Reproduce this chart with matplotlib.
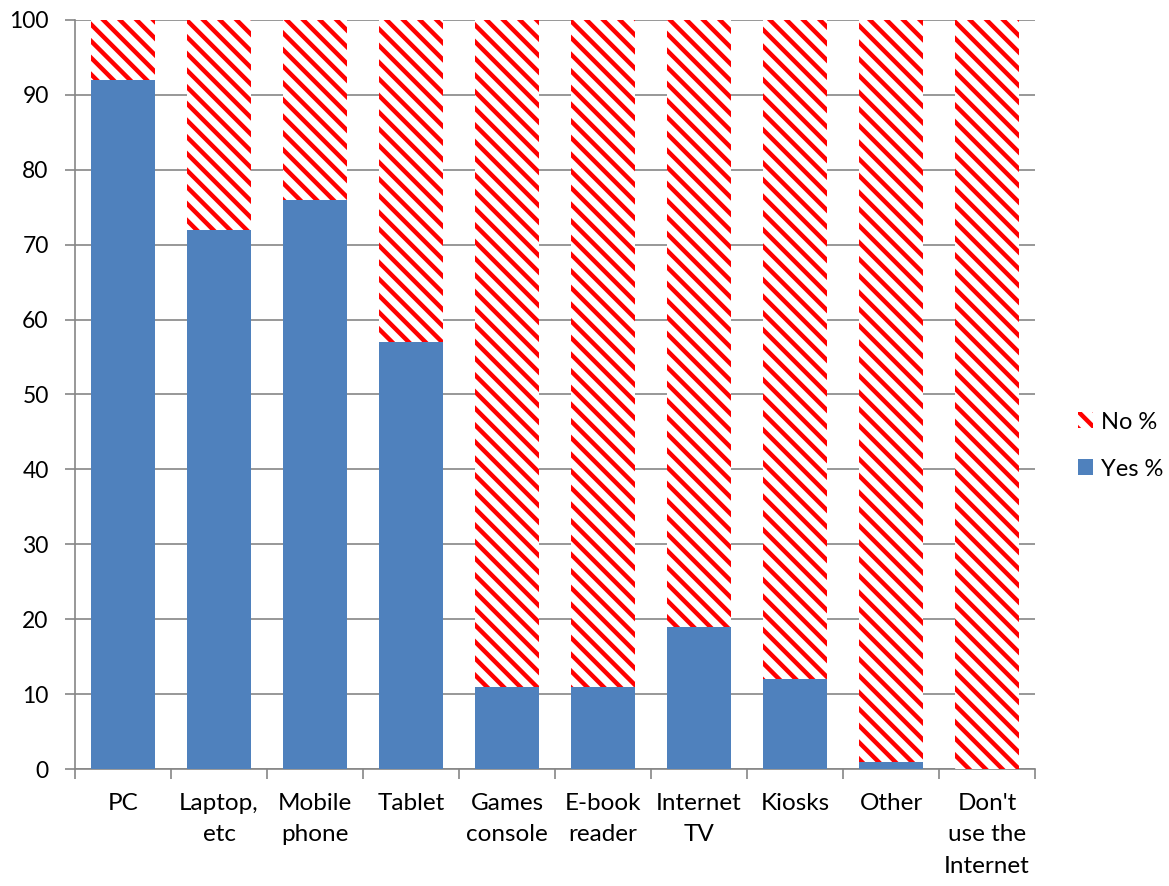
import matplotlib
matplotlib.use("Agg")
import matplotlib.pyplot as plt
from matplotlib.patches import Patch
import numpy as np

categories = ["PC", "Laptop,\netc", "Mobile\nphone", "Tablet", "Games\nconsole",
              "E-book\nreader", "Internet\nTV", "Kiosks", "Other", "Don't\nuse the\nInternet"]
yes_pct = [92, 72, 76, 57, 11, 11, 19, 12, 1, 0]
no_pct = [8, 28, 24, 43, 89, 89, 81, 88, 99, 100]
y_ticks = [0, 10, 20, 30, 40, 50, 60, 70, 80, 90, 100]

blue = "#4F81BD"
red = "#FF0000"
grey = "#868686"

plt.rcParams["font.family"] = ["Lato", "DejaVu Sans"]
plt.rcParams["hatch.linewidth"] = 3.2
plt.rcParams["hatch.color"] = red

fig = plt.figure(figsize=(11.69, 8.86), dpi=100)
ax = fig.add_axes([0.0642, 0.132, 0.8212, 0.8455])

x = np.arange(len(categories))
w = 0.67
ax.bar(x, yes_pct, width=w, color=blue, edgecolor="none", zorder=3)
ax.bar(x, no_pct, bottom=yes_pct, width=w, facecolor="white", edgecolor=red,
       hatch="\\\\", linewidth=0, zorder=3)

ax.set_xlim(-0.5, len(categories) - 0.5)
ax.set_ylim(0, 100)
ax.set_yticks(y_ticks)
ax.yaxis.grid(True, color=grey, linewidth=1.2, zorder=0)
ax.set_axisbelow(True)

ax.set_xticks(x)
ax.set_xticklabels(categories, fontsize=17.5, linespacing=1.62, va="top")
ax.set_xticks(np.arange(-0.5, len(categories)), minor=True)
ax.tick_params(axis="x", which="major", length=0, pad=17)
ax.tick_params(axis="x", which="minor", length=7, width=1.2, color=grey, direction="out")
ax.tick_params(axis="y", length=7, width=1.2, color=grey, direction="out", labelsize=16.5, pad=12)

for s in ["top", "right"]:
    ax.spines[s].set_visible(False)
for s in ["left", "bottom"]:
    ax.spines[s].set_color(grey)
    ax.spines[s].set_linewidth(1.2)

handles = [Patch(facecolor="white", edgecolor=red, hatch="\\\\", linewidth=0, label="No %"),
           Patch(facecolor=blue, edgecolor="none", label="Yes %")]
fig.legend(handles=handles, loc="center left", bbox_to_anchor=(0.922, 0.497),
           frameon=False, fontsize=17, handlelength=0.65, handleheight=0.65,
           handletextpad=0.35, labelspacing=1.1, borderpad=0, borderaxespad=0)

fig.savefig("out.png", dpi=100)
